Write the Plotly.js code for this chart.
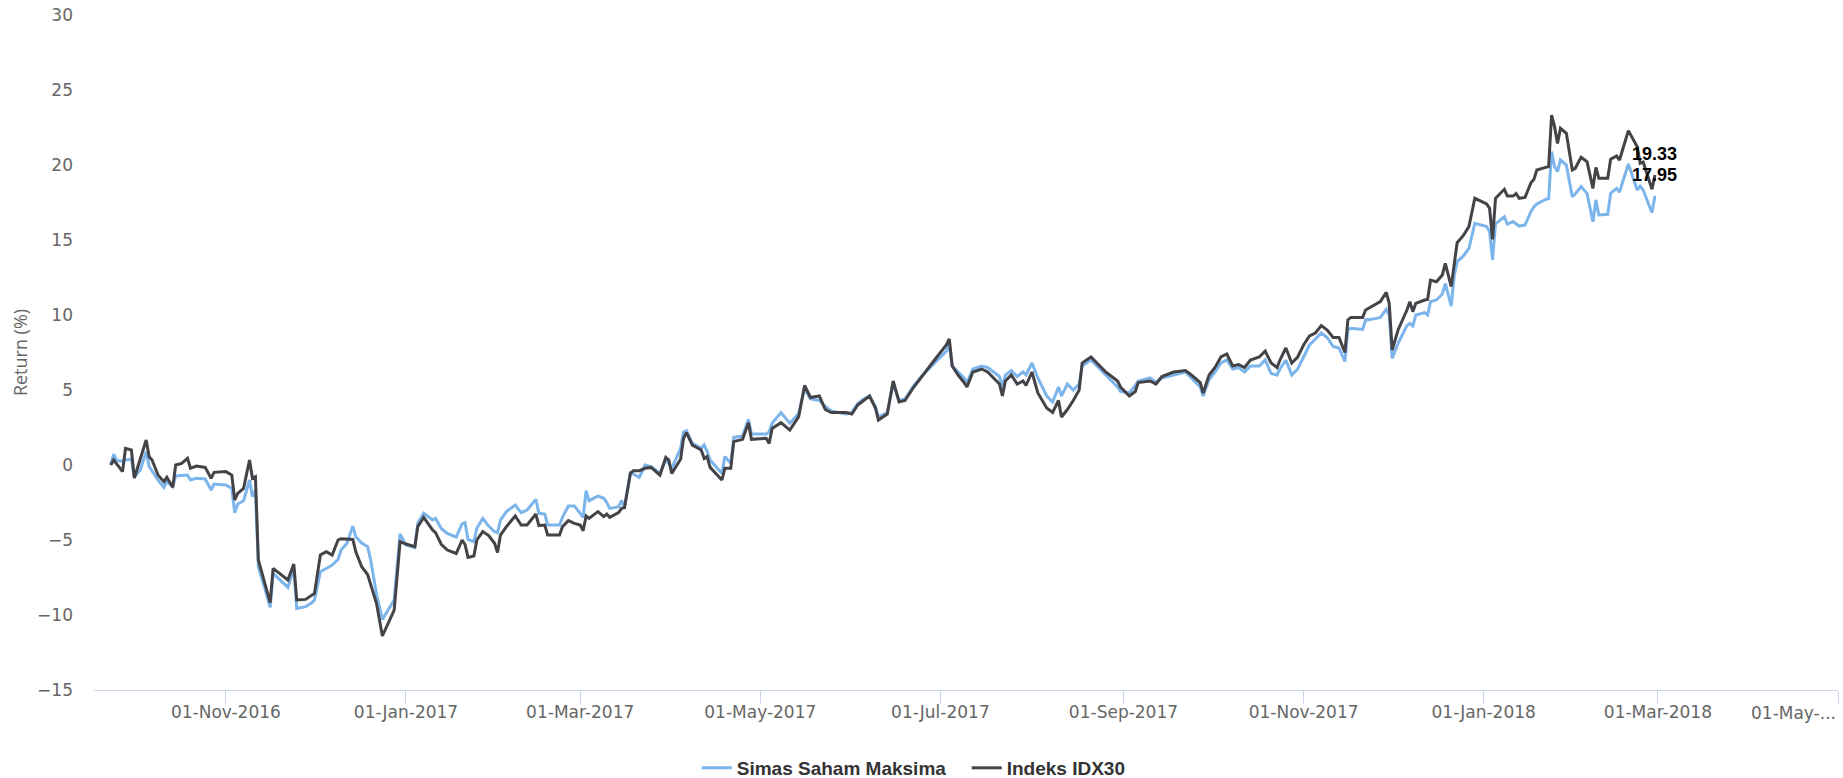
<!DOCTYPE html>
<html>
<head>
<meta charset="utf-8">
<script src="https://cdn.plot.ly/plotly-3.0.1.min.js"></script>
<style>html,body{margin:0;padding:0;background:#fff;}#chart{width:1843px;height:778px;}</style>
</head>
<body>
<div id="chart"></div>
<script>
// ---- data ----
const dates = [
'2016-09-23','2016-09-24','2016-09-25','2016-09-27','2016-09-28','2016-09-30','2016-10-01','2016-10-03','2016-10-05','2016-10-06',
'2016-10-07','2016-10-09','2016-10-11','2016-10-12','2016-10-14','2016-10-15','2016-10-17','2016-10-19','2016-10-20','2016-10-22',
'2016-10-25','2016-10-27','2016-10-28','2016-11-01','2016-11-03','2016-11-04','2016-11-05','2016-11-07','2016-11-09','2016-11-10',
'2016-11-11','2016-11-12','2016-11-14','2016-11-16','2016-11-17','2016-11-19','2016-11-22','2016-11-24','2016-11-25','2016-11-28',
'2016-11-30','2016-12-01','2016-12-03','2016-12-05','2016-12-07','2016-12-09','2016-12-10','2016-12-12','2016-12-14','2016-12-15',
'2016-12-17','2016-12-19','2016-12-20','2016-12-21','2016-12-22','2016-12-24','2016-12-26','2016-12-28','2016-12-30','2017-01-01',
'2017-01-04','2017-01-05','2017-01-07','2017-01-10','2017-01-11','2017-01-13','2017-01-15','2017-01-18','2017-01-20','2017-01-21',
'2017-01-22','2017-01-24','2017-01-25','2017-01-27','2017-01-29','2017-01-31','2017-02-01','2017-02-02','2017-02-04','2017-02-07',
'2017-02-09','2017-02-11','2017-02-14','2017-02-15','2017-02-17','2017-02-18','2017-02-22','2017-02-23','2017-02-25','2017-02-27',
'2017-03-01','2017-03-02','2017-03-03','2017-03-04','2017-03-07','2017-03-09','2017-03-10','2017-03-11','2017-03-14','2017-03-15',
'2017-03-16','2017-03-18','2017-03-19','2017-03-21','2017-03-23','2017-03-25','2017-03-28','2017-03-30','2017-03-31','2017-04-01',
'2017-04-04','2017-04-05','2017-04-06','2017-04-08','2017-04-11','2017-04-12','2017-04-13','2017-04-14','2017-04-18','2017-04-19',
'2017-04-21','2017-04-22','2017-04-25','2017-04-27','2017-04-28','2017-05-03','2017-05-04','2017-05-05','2017-05-08','2017-05-11',
'2017-05-14','2017-05-16','2017-05-18','2017-05-21','2017-05-23','2017-05-25','2017-05-30','2017-06-01','2017-06-03','2017-06-05',
'2017-06-07','2017-06-09','2017-06-10','2017-06-13','2017-06-15','2017-06-17','2017-06-19','2017-06-22','2017-06-25','2017-06-29',
'2017-07-03','2017-07-04','2017-07-05','2017-07-07','2017-07-09','2017-07-10','2017-07-12','2017-07-15','2017-07-17','2017-07-19',
'2017-07-21','2017-07-22','2017-07-23','2017-07-25','2017-07-27','2017-07-29','2017-07-30','2017-08-01','2017-08-03','2017-08-06',
'2017-08-08','2017-08-10','2017-08-11','2017-08-13','2017-08-15','2017-08-17','2017-08-18','2017-08-21','2017-08-23','2017-08-26',
'2017-08-30','2017-08-31','2017-09-03','2017-09-05','2017-09-06','2017-09-10','2017-09-12','2017-09-14','2017-09-18','2017-09-22',
'2017-09-24','2017-09-27','2017-09-28','2017-09-30','2017-10-02','2017-10-04','2017-10-06','2017-10-08','2017-10-10','2017-10-12',
'2017-10-14','2017-10-17','2017-10-19','2017-10-21','2017-10-23','2017-10-24','2017-10-26','2017-10-28','2017-10-30','2017-11-01',
'2017-11-03','2017-11-05','2017-11-07','2017-11-09','2017-11-11','2017-11-13','2017-11-15','2017-11-16','2017-11-17','2017-11-21',
'2017-11-22','2017-11-24','2017-11-26','2017-11-27','2017-11-29','2017-11-30','2017-12-01','2017-12-03','2017-12-06','2017-12-07',
'2017-12-08','2017-12-09','2017-12-12','2017-12-13','2017-12-14','2017-12-16','2017-12-18','2017-12-19','2017-12-21','2017-12-22',
'2017-12-23','2017-12-25','2017-12-27','2017-12-29','2018-01-02','2018-01-03','2018-01-04','2018-01-05','2018-01-08','2018-01-09',
'2018-01-11','2018-01-12','2018-01-13','2018-01-15','2018-01-17','2018-01-18','2018-01-19','2018-01-22','2018-01-23','2018-01-24',
'2018-01-25','2018-01-26','2018-01-27','2018-01-29','2018-01-31','2018-02-01','2018-02-03','2018-02-05','2018-02-07','2018-02-08',
'2018-02-09','2018-02-12','2018-02-13','2018-02-15','2018-02-16','2018-02-19','2018-02-22','2018-02-23','2018-02-24','2018-02-27',
'2018-02-28'
];

const simasSahamMaksima = [
0.0,0.73,0.3,0.25,0.33,0.38,-0.82,-0.33,0.89,-0.1,
-0.4,-1.0,-1.49,-1.11,-1.44,-0.73,-0.7,-0.67,-1.0,-0.89,
-0.93,-1.67,-1.27,-1.33,-1.56,-3.18,-2.6,-2.38,-1.0,-2.11,
-1.67,-6.78,-8.11,-9.49,-7.22,-7.6,-8.16,-6.89,-9.56,-9.44,
-9.2,-9.0,-7.11,-6.9,-6.67,-6.3,-5.67,-5.22,-4.07,-4.78,
-5.2,-5.44,-6.3,-7.44,-8.6,-10.29,-9.6,-9.0,-4.6,-5.33,
-5.5,-3.89,-3.22,-3.67,-3.56,-4.25,-4.56,-4.8,-3.93,-3.84,
-4.96,-5.11,-4.22,-3.56,-4.07,-4.45,-4.51,-3.67,-3.11,-2.67,
-3.18,-3.0,-2.29,-3.22,-3.27,-4.0,-4.0,-3.49,-2.73,-2.73,
-3.22,-3.5,-1.71,-2.38,-2.07,-2.22,-2.5,-2.89,-2.78,-2.38,
-2.78,-0.51,-0.6,-0.82,0.0,-0.11,-0.56,0.38,0.1,-0.22,
1.11,2.2,2.29,1.44,1.11,1.33,0.9,0.33,-0.56,0.56,
0.11,1.84,1.93,3.04,2.07,2.07,2.2,2.78,3.49,2.78,
3.44,5.1,4.4,4.3,3.9,3.6,3.4,3.5,4.1,4.4,
4.6,3.9,3.2,3.5,5.4,4.3,4.4,5.3,6.0,6.8,
7.6,8.0,6.6,6.2,5.8,5.5,6.4,6.6,6.5,6.2,
5.9,5.2,6.0,6.3,5.9,6.2,6.0,6.8,5.8,4.6,
4.2,5.2,4.6,5.4,5.0,5.4,6.6,7.0,6.6,6.0,
5.2,4.9,4.8,5.3,5.6,5.8,5.5,5.8,6.0,6.2,
5.8,5.2,4.6,5.7,6.2,6.8,7.0,6.4,6.5,6.2,
6.6,6.6,7.0,6.1,6.0,6.4,7.0,6.0,6.4,7.2,
8.0,8.4,8.8,8.5,7.9,7.8,6.9,9.0,9.11,9.04,
9.67,9.71,9.78,9.84,10.38,10.0,7.11,8.11,9.3,9.44,
9.27,10.0,10.16,10.0,10.89,11.0,11.4,12.11,10.6,12.6,
13.56,13.9,14.44,16.11,15.89,15.56,13.67,16.07,16.56,16.07,
16.22,16.1,15.93,16.0,16.89,17.2,17.4,17.71,17.75,20.89,
19.9,19.56,20.33,20.0,17.89,18.07,18.56,18.11,16.22,17.67,
16.67,16.71,18.11,18.44,18.2,20.07,18.33,18.6,18.33,16.82,
17.95
];

const indeksIDX30 = [
0.0,0.33,0.07,-0.44,1.11,1.0,-0.87,0.33,1.67,0.56,
0.33,-0.67,-1.11,-0.82,-1.49,0.0,0.11,0.44,-0.22,-0.07,
-0.16,-0.89,-0.49,-0.44,-0.67,-2.33,-1.89,-1.56,0.33,-0.89,
-0.78,-6.33,-7.67,-9.18,-6.89,-7.18,-7.67,-6.6,-9.0,-8.96,
-8.67,-8.56,-6.0,-5.78,-6.0,-5.0,-4.91,-4.93,-4.96,-5.78,
-6.78,-7.3,-7.89,-8.5,-9.22,-11.4,-10.56,-9.67,-5.11,-5.27,
-5.44,-4.11,-3.5,-4.33,-4.51,-5.3,-5.67,-5.9,-5.0,-5.3,
-6.16,-6.07,-5.0,-4.44,-4.7,-5.22,-5.84,-4.67,-4.11,-3.4,
-4.0,-4.0,-3.27,-4.04,-4.0,-4.67,-4.67,-4.11,-3.71,-3.89,
-4.0,-4.38,-3.4,-3.56,-3.11,-3.44,-3.27,-3.49,-3.18,-2.89,
-2.85,-0.56,-0.38,-0.38,-0.22,-0.16,-0.67,0.51,0.33,-0.56,
0.38,1.78,2.16,1.33,1.0,0.44,0.56,-0.16,-1.0,-0.22,
-0.22,1.56,1.71,2.82,1.71,1.78,1.44,2.44,2.82,2.33,
3.22,5.3,4.5,4.6,3.7,3.5,3.5,3.4,4.0,4.3,
4.6,3.8,3.0,3.4,5.6,4.2,4.3,5.2,6.0,7.0,
8.0,8.4,6.6,6.0,5.5,5.2,6.2,6.4,6.2,5.8,
5.4,4.6,5.6,6.0,5.4,5.6,5.3,6.2,4.8,3.8,
3.5,4.3,3.2,3.7,4.3,5.0,6.8,7.2,6.8,6.2,
5.6,5.2,4.6,4.9,5.5,5.6,5.4,5.9,6.2,6.3,
6.0,5.5,4.8,6.0,6.5,7.2,7.4,6.6,6.7,6.5,
7.0,7.2,7.6,6.8,6.5,7.0,7.8,6.8,7.2,8.0,
8.6,8.8,9.3,9.0,8.5,8.5,7.5,9.67,9.84,9.84,
10.33,10.56,10.78,10.89,11.51,10.78,7.67,9.0,10.33,10.89,
10.22,10.78,11.0,11.04,12.33,12.22,12.67,13.44,11.89,13.44,
14.82,15.27,15.89,17.78,17.4,17.11,15.04,17.78,18.38,17.93,
17.93,18.1,17.78,17.84,18.82,19.04,19.67,19.84,19.9,23.33,
22.56,21.44,22.44,22.11,19.67,19.78,20.51,20.22,18.44,19.84,
19.11,19.11,20.38,20.6,20.33,22.29,21.22,20.11,20.2,18.38,
19.33
];

const seriesNames = ['Simas Saham Maksima', 'Indeks IDX30'];
const seriesColors = ['#7cb5ec', '#434348'];
const tickDates = ['2016-11-01','2017-01-01','2017-03-01','2017-05-01','2017-07-01','2017-09-01','2017-11-01','2018-01-01','2018-03-01','2018-05-01'];
const tickLabels = ['01-Nov-2016','01-Jan-2017','01-Mar-2017','01-May-2017','01-Jul-2017','01-Sep-2017','01-Nov-2017','01-Jan-2018','01-Mar-2018','01-May-...'];
const yTitle = 'Return (%)';

// ---- chart ----
const tickFont = {family: 'DejaVu Sans, Verdana, sans-serif', size: 17, color: '#666666'};
const seriesData = [simasSahamMaksima, indeksIDX30];

const traces = seriesData.map((vals, i) => ({
  type: 'scatter', mode: 'lines', name: seriesNames[i],
  x: dates, y: vals,
  line: {color: seriesColors[i], width: 3},
  hoverinfo: 'x+y+name'
}));

// last tick label does not fit: drawn as right-aligned text at the axis end
const axisTickText = tickLabels.slice(0, -1).concat(['']);

const annotations = seriesData.map((vals, i) => ({
  x: dates[dates.length - 1], y: vals[vals.length - 1],
  xref: 'x', yref: 'y',
  text: vals[vals.length - 1].toFixed(2),
  showarrow: false, xanchor: 'center', yanchor: 'middle', yshift: 21,
  font: {family: 'Liberation Sans, Arial, sans-serif', size: 18, color: '#000000', weight: 'bold'}
}));
annotations.push({
  xref: 'paper', yref: 'paper', x: 1, y: -0.0336,
  xanchor: 'right', yanchor: 'middle', showarrow: false,
  text: tickLabels[tickLabels.length - 1], font: tickFont
});

const layout = {
  width: 1843, height: 778,
  margin: {l: 94, r: 5, t: 15, b: 88},
  paper_bgcolor: '#ffffff', plot_bgcolor: '#ffffff',
  showlegend: true,
  legend: {
    orientation: 'h', xref: 'paper', x: 0.3456, xanchor: 'left',
    yref: 'container', y: 0.0129, yanchor: 'middle',
    entrywidth: 225, entrywidthmode: 'pixels',
    font: {family: 'Liberation Sans, Arial, sans-serif', size: 19, color: '#333333', weight: 'bold'},
    bgcolor: 'rgba(0,0,0,0)'
  },
  xaxis: {
    type: 'date', range: ['2016-09-17 08:00', '2018-05-01'],
    showgrid: false, zeroline: false,
    showline: true, linecolor: '#ccd6eb', linewidth: 1,
    ticks: 'outside', ticklen: 13, tickcolor: '#ccd6eb', tickwidth: 1,
    tickmode: 'array', tickvals: tickDates, ticktext: axisTickText,
    tickfont: tickFont, ticklabelstandoff: -6, fixedrange: true, automargin: false
  },
  yaxis: {
    range: [-15, 30], tick0: 0, dtick: 5,
    showgrid: false, zeroline: false, showline: false, ticks: '',
    tickfont: tickFont, ticklabelstandoff: 20,
    title: {text: yTitle, font: {family: 'Open Sans, sans-serif', size: 18, color: '#666666'}, standoff: 4},
    automargin: false, fixedrange: true
  },
  annotations: annotations
};

Plotly.newPlot('chart', traces, layout, {displayModeBar: false, staticPlot: true});
</script>
</body>
</html>
